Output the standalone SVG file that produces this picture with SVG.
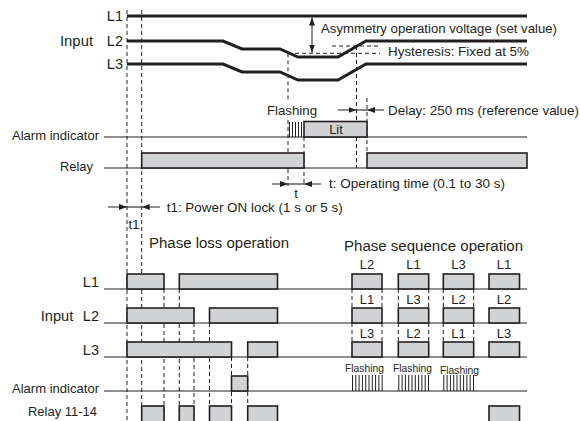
<svg xmlns="http://www.w3.org/2000/svg" width="580" height="421" viewBox="0 0 580 421">
<defs>
<style>
text{font-family:"Liberation Sans",Arial,sans-serif;fill:#231f20;font-size:13px}
.sig{stroke:#231f20;stroke-width:3;fill:none}
.base{stroke:#231f20;stroke-width:1.1;fill:none}
.box{fill:#d1d2d4;stroke:#231f20;stroke-width:1.6}
.dash{stroke:#231f20;stroke-width:1;stroke-dasharray:4 3;fill:none}
.tick{stroke:#231f20;stroke-width:1;fill:none}
.arr{stroke:#231f20;stroke-width:1;fill:none;marker-end:url(#ah)}
.small{font-size:10px}
.lab{font-size:14.5px}
.mid{text-anchor:middle}
.end{text-anchor:end}
</style>
<marker id="ah" viewBox="0 0 8 6" refX="8" refY="3" markerWidth="8" markerHeight="6" markerUnits="userSpaceOnUse" orient="auto-start-reverse"><path d="M0,0 L8,3 L0,6 z" fill="#231f20"/></marker>
</defs>
<rect width="580" height="421" fill="#ffffff"/>

<g id="guides">
<line class="dash" x1="127" y1="10" x2="127" y2="421"/>
<line class="dash" x1="141.7" y1="10" x2="141.7" y2="421"/>
</g>

<g id="top-input">
<text x="60" y="46" class="lab" textLength="33" lengthAdjust="spacingAndGlyphs">Input</text>
<text x="123" y="21" class="end lab">L1</text>
<text x="123" y="46" class="end lab">L2</text>
<text x="123" y="69" class="end lab">L3</text>
<path class="sig" d="M127,16 H527"/>
<path class="sig" d="M127,41 H223 L242,49 H280 L298,57 H338 L366,41 H527"/>
<path class="sig" d="M127,64 H223 L242,72 H280 L298,80 H338 L366,64 H527"/>
</g>

<g id="annotations-top">
<line class="dash" x1="288" y1="53.3" x2="380" y2="53.3"/>
<line class="dash" x1="332" y1="46" x2="380" y2="46"/>
<line x1="312" y1="17.5" x2="312" y2="52.5" stroke="#231f20" stroke-width="1" marker-start="url(#ah)" marker-end="url(#ah)"/>
<text x="321" y="33" textLength="236" lengthAdjust="spacingAndGlyphs">Asymmetry operation voltage (set value)</text>
<text x="388" y="56" textLength="141" lengthAdjust="spacingAndGlyphs">Hysteresis: Fixed at 5%</text>
<text x="267" y="115" textLength="50" lengthAdjust="spacingAndGlyphs">Flashing</text>
<text x="388" y="115" textLength="191" lengthAdjust="spacingAndGlyphs">Delay: 250 ms (reference value)</text>
<line class="arr" x1="338" y1="110" x2="356.5" y2="110"/>
<line class="arr" x1="384" y1="110" x2="367" y2="110"/>
<line class="base" x1="356.5" y1="110" x2="367" y2="110"/>
<line class="dash" x1="288" y1="53.3" x2="288" y2="101"/>
<line class="dash" x1="288" y1="120" x2="288" y2="186"/>
<line class="dash" x1="304" y1="137" x2="304" y2="186"/>
<line class="dash" x1="356.5" y1="46" x2="356.5" y2="168"/>
<line class="dash" x1="367" y1="98" x2="367" y2="153"/>
</g>

<g id="top-alarm">
<text x="99" y="140" class="end" textLength="87" lengthAdjust="spacingAndGlyphs">Alarm indicator</text>
<line class="base" x1="104" y1="137" x2="527" y2="137"/>
<path class="tick" d="M289.5,122V137M292.5,122V137M295.5,122V137M298.5,122V137M301.5,122V137"/>
<rect class="box" x="304" y="121.5" width="63" height="15.5"/>
<text x="336" y="134" class="mid">Lit</text>
</g>

<g id="top-relay">
<text x="93" y="171" class="end" textLength="33" lengthAdjust="spacingAndGlyphs">Relay</text>
<line class="base" x1="104" y1="168" x2="527" y2="168"/>
<rect class="box" x="141.7" y="153" width="162.3" height="15"/>
<rect class="box" x="367" y="153" width="160" height="15"/>
</g>

<g id="timing">
<line class="arr" x1="272" y1="184" x2="288" y2="184"/>
<line class="arr" x1="321" y1="184" x2="304" y2="184"/>
<line class="base" x1="288" y1="184" x2="304" y2="184"/>
<text x="296" y="198" class="mid">t</text>
<text x="329" y="188" textLength="176" lengthAdjust="spacingAndGlyphs">t: Operating time (0.1 to 30 s)</text>
<line class="arr" x1="108" y1="207" x2="127" y2="207"/>
<line class="arr" x1="160" y1="207" x2="141.7" y2="207"/>
<line class="base" x1="127" y1="207" x2="141.7" y2="207"/>
<text x="166.7" y="212" textLength="176" lengthAdjust="spacingAndGlyphs">t1: Power ON lock (1 s or 5 s)</text>
<text x="134" y="229" class="mid">t1</text>
</g>

<g id="phase-loss">
<text x="149" y="248" textLength="140" lengthAdjust="spacingAndGlyphs" style="font-size:14px">Phase loss operation</text>
<text x="99" y="287" class="end lab">L1</text>
<text x="40.7" y="321" class="lab" textLength="32.6" lengthAdjust="spacingAndGlyphs">Input</text>
<text x="99" y="321" class="end lab">L2</text>
<text x="99" y="355" class="end lab">L3</text>
<text x="99" y="393" class="end" textLength="87" lengthAdjust="spacingAndGlyphs">Alarm indicator</text>
<text x="97" y="416" class="end" textLength="69" lengthAdjust="spacingAndGlyphs">Relay 11-14</text>
<line class="base" x1="104" y1="289" x2="527" y2="289"/>
<line class="base" x1="104" y1="323" x2="527" y2="323"/>
<line class="base" x1="104" y1="357" x2="527" y2="357"/>
<line class="base" x1="104" y1="391" x2="527" y2="391"/>
<line class="base" x1="104" y1="425" x2="527" y2="425"/>
<line class="dash" x1="164" y1="289" x2="164" y2="421"/>
<line class="dash" x1="179.3" y1="289" x2="179.3" y2="421"/>
<line class="dash" x1="194" y1="323" x2="194" y2="421"/>
<line class="dash" x1="209.5" y1="323" x2="209.5" y2="421"/>
<line class="dash" x1="231.5" y1="357" x2="231.5" y2="421"/>
<line class="dash" x1="247.7" y1="357" x2="247.7" y2="421"/>
<rect class="box" x="127" y="274" width="37" height="15"/>
<rect class="box" x="179.3" y="274" width="98.2" height="15"/>
<rect class="box" x="127" y="308" width="67" height="15"/>
<rect class="box" x="209.5" y="308" width="68" height="15"/>
<rect class="box" x="127" y="342" width="104.5" height="15"/>
<rect class="box" x="247.7" y="342" width="29.8" height="15"/>
<rect class="box" x="231.5" y="376" width="16.2" height="15"/>
<rect class="box" x="141.7" y="406" width="22.3" height="19"/>
<rect class="box" x="179.3" y="406" width="14.7" height="19"/>
<rect class="box" x="209.5" y="406" width="22" height="19"/>
<rect class="box" x="247.7" y="406" width="29.8" height="19"/>
</g>

<g id="phase-sequence">
<text x="344" y="251" textLength="179" lengthAdjust="spacingAndGlyphs" style="font-size:14px">Phase sequence operation</text>
<g class="mid">
<text x="367" y="269">L2</text><text x="413.5" y="269">L1</text><text x="458.5" y="269">L3</text><text x="504" y="269">L1</text>
<text x="367" y="304">L1</text><text x="413.5" y="304">L3</text><text x="458.5" y="304">L2</text><text x="504" y="304">L2</text>
<text x="367" y="338">L3</text><text x="413.5" y="338">L2</text><text x="458.5" y="338">L1</text><text x="504" y="338">L3</text>
</g>
<path class="dash" d="M352,289V308M382,289V308M398.3,289V308M428.7,289V308M443.3,289V308M473.7,289V308M352,323V342M382,323V342M398.3,323V342M428.7,323V342M443.3,323V342M473.7,323V342"/>
<rect class="box" x="352" y="274" width="30" height="15"/>
<rect class="box" x="398.3" y="274" width="30.4" height="15"/>
<rect class="box" x="443.3" y="274" width="30.4" height="15"/>
<rect class="box" x="489" y="274" width="30.5" height="15"/>
<rect class="box" x="352" y="308" width="30" height="15"/>
<rect class="box" x="398.3" y="308" width="30.4" height="15"/>
<rect class="box" x="443.3" y="308" width="30.4" height="15"/>
<rect class="box" x="489" y="308" width="30.5" height="15"/>
<rect class="box" x="352" y="342" width="30" height="15"/>
<rect class="box" x="398.3" y="342" width="30.4" height="15"/>
<rect class="box" x="443.3" y="342" width="30.4" height="15"/>
<rect class="box" x="489" y="342" width="30.5" height="15"/>
<text x="364.5" y="372" class="small mid" textLength="39" lengthAdjust="spacingAndGlyphs">Flashing</text>
<text x="412.5" y="372" class="small mid" textLength="39" lengthAdjust="spacingAndGlyphs">Flashing</text>
<text x="459.5" y="373.5" class="small mid" textLength="39" lengthAdjust="spacingAndGlyphs">Flashing</text>
<path class="tick" d="M352.5,375V391M355.8,375V391M359.1,375V391M362.4,375V391M365.7,375V391M369,375V391M372.3,375V391M375.6,375V391M378.9,375V391M382.2,375V391"/>
<path class="tick" d="M398.8,375V391M402.1,375V391M405.4,375V391M408.7,375V391M412,375V391M415.3,375V391M418.6,375V391M421.9,375V391M425.2,375V391M428.5,375V391"/>
<path class="tick" d="M443.8,375V391M447.1,375V391M450.4,375V391M453.7,375V391M457,375V391M460.3,375V391M463.6,375V391M466.9,375V391M470.2,375V391M473.5,375V391"/>
<rect class="box" x="489" y="406" width="30.5" height="19"/>
</g>
</svg>
